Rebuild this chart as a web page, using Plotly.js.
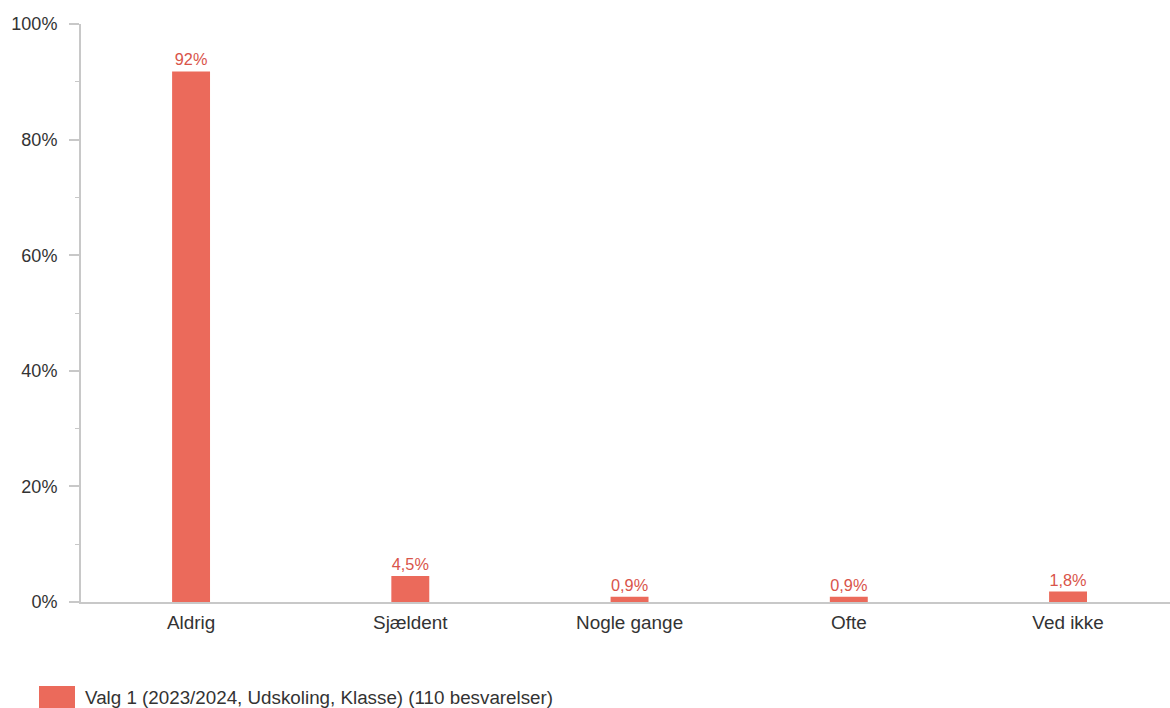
<!DOCTYPE html>
<html><head><meta charset="utf-8">
<script src="https://cdn.plot.ly/plotly-3.0.1.min.js"></script>
<style>html,body{margin:0;padding:0;background:#fff}#c{width:1170px;height:708px}</style>
</head><body><div id="c"></div>
<script>
const categories = ["Aldrig", "Sjældent", "Nogle gange", "Ofte", "Ved ikke"];
const values = [91.8, 4.5, 0.9, 0.9, 1.8];
const valueLabels = ["92%", "4,5%", "0,9%", "0,9%", "1,8%"];
const seriesName = "Valg 1 (2023/2024, Udskoling, Klasse) (110 besvarelser)";
const yTicks = [0, 20, 40, 60, 80, 100];

const barColor = "#EB6A5B";
const trace = {
  type: "bar", x: categories, y: values, name: seriesName,
  marker: {color: barColor}, width: 0.173,
  text: valueLabels, texttemplate: "%{text}", textposition: "outside", cliponaxis: false,
  textfont: {family: "Liberation Sans, Arial, sans-serif", size: 16.3, color: "#D9544A"},
  hoverinfo: "skip", showlegend: false
};
const layout = {
  width: 1170, height: 708,
  margin: {l: 81, r: 0, t: 24, b: 106},
  separators: ",.",
  paper_bgcolor: "#fff", plot_bgcolor: "#fff",
  font: {family: "Liberation Sans, Arial, sans-serif", size: 18, color: "#333"},
  showlegend: false,
  xaxis: {range: [-0.502, 4.465], showgrid: false, zeroline: false,
    showline: true, linecolor: "#c8c8c8", linewidth: 2, ticks: "",
    ticklabelstandoff: 2,
    tickfont: {size: 18.9, color: "#333"}, fixedrange: true},
  yaxis: {range: [0, 100], tickvals: yTicks, ticktext: yTicks.map(v => v + "%"),
    showgrid: false, zeroline: false, showline: true, linecolor: "#c8c8c8", linewidth: 2,
    ticks: "outside", ticklen: 10, tickcolor: "#c8c8c8", tickwidth: 2,
    ticklabelstandoff: 8,
    minor: {tickvals: [10, 30, 50, 70, 90], ticks: "outside", ticklen: 4, tickcolor: "#c8c8c8", tickwidth: 1},
    tickfont: {size: 18, color: "#333"}, fixedrange: true},
  shapes: [{type: "rect", xref: "paper", yref: "paper",
    x0: (39 - 81) / 1089, x1: (75 - 81) / 1089,
    y0: -(686 - 602) / 578, y1: -(708 - 602) / 578,
    fillcolor: barColor, line: {width: 0}}],
  annotations: [{xref: "paper", yref: "paper", x: (83 - 81) / 1089, y: -(697 - 602) / 578,
    xanchor: "left", yanchor: "middle", showarrow: false, text: seriesName,
    font: {size: 18.8, color: "#333"}}]
};
Plotly.newPlot("c", [trace], layout, {displayModeBar: false, staticPlot: true});
</script></body></html>
